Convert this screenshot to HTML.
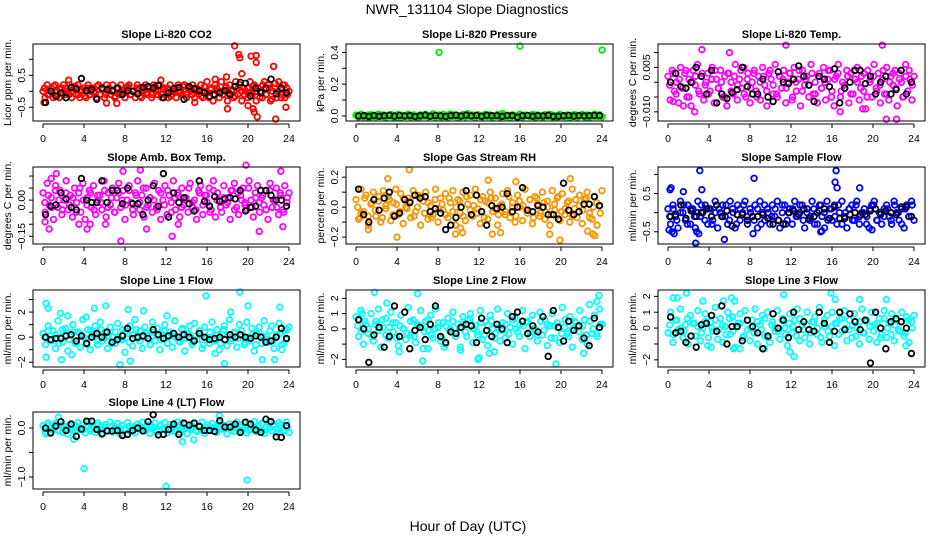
<!DOCTYPE html>
<html><head><meta charset="utf-8"><style>
html,body{margin:0;padding:0;background:#fff;}
svg{display:block;font-family:"Liberation Sans",sans-serif;}
</style></head><body>
<svg id="chart" width="936" height="540" viewBox="0 0 936 540" xmlns="http://www.w3.org/2000/svg">
<rect x="0" y="0" width="936" height="540" fill="#fff"/>
<text x="467" y="14" text-anchor="middle" font-size="14">NWR_131104  Slope Diagnostics</text>
<text x="468" y="531" text-anchor="middle" font-size="14">Hour of Day (UTC)</text>
</svg>
<script>
const blkHoursCount = 48;
const co2Band = [0,-2,2,-1,1,-2,2,0,-2,1,2,-1,0,2,-2,1,-1,2,-2,0,1,-2,2,-1,1,0,-2,2,-1,1,-2,2,0,-1,2,-2,1,-1,2,0,-2,1,2,-1,0,-2,2,1,-2,0,2,-1,1,-2,2,0,-1,2,-2,1,0,-2,2,-1,1,-2,2,0,-1,2,-2,1,0,2,-2,1,-1,2,-2,0,3,-2,1,-3,2,0,-2,3,-1,1,-3,2,0,-2,3,-1,2,-3,1,0,-2,3,-1,2,-3,1,0,-2,3,-1,2,-3,0,1,-2,3,-1,2,-2,1,0];
const co2Band2 = [1,-1,0,1.5,-1.5,0.5,-0.5,1,-1,0,1.5,-1,0.5,-1.5,1,0,-0.5,1.5,-1,0.5,-1,1,0,-1.5,1,-0.5,0.5,1.5,-1,0,1,-1.5,0.5,-0.5,1,-1,1.5,0,-1,0.5,1,-1.5,0,1,-0.5,1.5,-1,0.5,-1,1,0,-1.5,1.5,-0.5,0.5,-1,1,0,-1,1.5,-0.5,0.5,-1.5,1,0,-1,1,-0.5,1.5,0,-2,2,-1,1,-2.5,2.5,0,-2,2,-1];
const co2Blk = [-3.5,0,-1.5,-0.5,-2,1.2,0.8,4,0.2,0.5,-2.5,1,0.5,0.2,1,-1,0.2,0,-0.8,1.2,1.5,1,1.8,-2,-0.5,0.8,1.2,-2.5,1.5,0.8,0.2,-0.5,-1.5,-1,-0.5,0.2,-1,1.5,2.8,2.5,-1.5,1,-0.5,1,3.8,-0.8,1,-0.5];
const co2OutH = [0.1,6.2,7.2,18.0,18.7,19.1,19.2,19.4,20.0,20.3,20.5,20.6,20.8,20.8,20.9,22.5,22.7,23.7,2.5,11.5,14.8,16.8,17.9];
const co2OutV = [-3.5,-3.7,-3.8,-5.5,14.2,11.5,10.5,5.5,-4.5,11,-5.5,-6.5,11.2,9,-8,7.8,-8.7,-5,3.5,3.5,-3.5,3.8,4.5];

const presBand = [0.5,-0.8,1,-0.5,0.2,-1,0.8,0,-0.6,1.2,-0.3,0.6,-1,0.4,0.9,-0.7,0.1,1,-0.9,0.3,-0.4,1.1,-0.8,0.6,0,-1,0.7,-0.2,1,-0.6,0.4,1.3,-0.9,0.2,-0.5,1,0.5,-0.8,1.2,-0.3,0.7,-1.1,0.2,0.9,-0.6,1.4,-0.2,0.5,-1,0.8,0,-0.7,1.1,-0.4,0.6,-1,0.3,0.9,-0.8,1.5,-0.2,0.4,-1.1,0.7,0.1,-0.6,1.2,-0.9,0.5,0.2,-0.4,1,-0.8,0.6,0,-1,0.8,-0.3,1.1,-0.6,0.3,-0.9,1,0.2,-0.5,0.7,-1,0.4,0.9,-0.7,0.2,1,-0.5,0.6,-0.9,0.3,1.1,-0.4,0.7,-0.6];
const presBand2 = [0.3,-0.3,0,0.5,-0.5,0.2,-0.2,0.4,-0.4,0,0.3,-0.6,0.6,-0.1,0.1,-0.5,0.5,0,-0.3,0.3,-0.2,0.4,-0.4,0.6,-0.6,0,0.2,-0.2,0.5,-0.5,0.1,-0.1,0.3,-0.3,0.4,-0.4,0,0.6,-0.6,0.2,-0.2,0.5,-0.5,0,0.3,-0.3,0.1,-0.1,0.4,-0.4,0.6,-0.6,0,0.2,-0.2,0.5,-0.5,0.3,-0.3,0,0.4,-0.4,0.1,-0.1,0.6,-0.6,0.2,-0.2,0.3,0];
const presBlk = [0,0.2,-0.3,0.3,-0.2,0.1,0.4,-0.1,0.3,0,0.2,-0.4,0.1,0.5,-0.2,0.3,0,-0.3,0.2,0.4,-0.1,0.5,0,0.3,-0.2,0.4,0.1,0.2,-0.3,0.3,0.2,-0.8,0.1,0.3,-0.2,0.2,0,0.4,-0.3,-0.2,0.1,0.3,-0.1,0.2,0,0.1,0.3,0.2];
const presOutH = [8.1,16.0,24.0];
const presOutV = [40,44,41.5];

const tempBand = [2,-6,4,-3,0,-7,5,-2,3,-5,1,-8,4,-1,6,-4,2,-6,0,3,-3,5,-7,1,-2,4,-5,2,-8,3,0,-4,6,-6,1,-2,5,-5,3,-7,0,4,-3,2,-6,5,-1,-8,3,1,-4,6,-5,2,-2,4,-7,0,3,-6,5,-3,1,-8,4,-1,2,-5,6,-4,0,-7,3,-2,5,-6,1,4,-3,-8,2,6,-5,0,-2,4,-7,3,-4,1,5,-6,2,-3,-9,4,0,-5,6,-2,3,-7,1,-4,5,-6,2,-1,4,-8,3,0,-5,6,-3,1,-6,2];
const tempBand2 = [-1,3,-4,1,-2,4,-5,0,2,-3,3,-1,-4,1,4,-2,0,-5,3,-3,2,-1,4,-4,1,-2,3,-5,0,2,-3,4,-1,-4,2,1,-2,3,-5,0,4,-3,1,-1,3,-4,2,-2,0,4,-5,1,3,-3,-1,2,-4,4,0,-2,3,-5,1,2,-3,-1,4,-4,0,3,-2,1,-5,2,4,-1];
const tempBlk = [0,3,-1.5,-2,0,5,2,-4,4,-7,-4,-5.5,-3.5,-2.5,5,-1.5,-4,-4,1,-5,-6.5,3.5,0,-0.5,1,5.5,2,-1,-6.5,2,1,-1.5,4.5,-7,-2,0,4,4,-0.5,2,-4,0,2,-4,-2.5,4,-4,0];
const tempOutH = [11.5,20.9,21.3,22.3,16.8,2.6,19.0,0.5,1.5,6.0,3.3];
const tempOutV = [12.5,12.5,-12.5,-12.5,-10,-10,-9,-6.5,-8,10,11];

const ambBand = [3,-5,7,-2,1,-8,6,-3,4,-6,0,8,-4,2,-7,5,-1,3,-5,7,-8,1,4,-3,6,-6,0,2,-4,8,-7,3,-2,5,-5,1,7,-3,4,-8,0,6,-1,-6,3,8,-4,2,-7,5,-2,1,-5,7,-3,4,-8,0,6,-6,2,-1,8,-4,3,-7,5,-2,1,-5,7,-3,0,-8,4,6,-6,2,-1,5,-4,8,-7,3,0,-5,6,-2,1,-8,4,7,-3,-6,2,5,-1,-4,8,0,-7,3,6,-5,1,-2,4,-8,7,-3,0,5,-6,2,-4,6,-1,3];
const ambBand2 = [-1,2,-3,4,0,-4,3,-2,1,-5,5,0,-2,3,-4,2,-1,4,-3,1,-5,3,0,-2,4,-4,2,-1,5,-3,1,0,-4,3,-2,4,-5,1,2,-3,0,5,-1,-4,3,-2,2,-5,4,0,-3,1,-1,4,-4,3,0,-2,5,-3,1,-1,2,-4,4,0,-3,3,-5,1];
const ambBlk = [-6,-2.5,-2,3,0.5,-3,-4,9,0,-1,-1,8,-1,4,4,-1.5,5,-1.5,-1.5,-6,0,6,-2.5,11,-7,3,-1,1,-1.5,-4.5,8,-0.5,-2.5,1.5,-0.5,0.5,1,0.5,4,-4.5,-3,-2.5,4,4,2,0,0,-2.5];
const ambOutH = [0.2,0.6,0.8,1.3,4.3,4.6,6.1,7.6,7.8,10.1,12.6,13.2,19.8,21.1,23.2,23.4,3.5,9.5];
const ambOutV = [-9,-12,9,11,-12,-10,-10,-17,12,-12,-15,-10,14.5,-13,12,-11,-10,12.5];

const rhBand = [5,-8,12,-3,8,-12,2,10,-6,4,-10,11,-1,7,-9,3,12,-5,9,-11,0,6,-7,11,-3,8,-12,4,10,-8,1,-5,12,-10,6,-2,9,-7,3,11,-12,5,-4,10,-9,2,8,-6,12,-1,-11,7,4,-8,10,-3,6,-12,1,9,-5,11,-7,3,-10,8,0,-9,12,-4,5,-11,7,2,-6,10,-8,4,-12,11,-2,6,-9,9,-5,3,-10,12,-1,-7,8,-11,5,10,-4,-8,7,-12,1,11];
const rhBand2 = [0,-4,6,-6,3,-2,7,-7,1,5,-5,2,-3,6,-1,4,-6,0,7,-4,3,-7,5,-1,2,-5,6,-3,0,4,-6,7,-2,1,-4,5,-7,3,6,-1,-5,2,-3,7,0,-6,4,1,-2,5,-7,6,-4,3,0,-5,2,7,-3,-1,4,-6,5,1,-2,6,-7,0,3,-4];
const rhBlk = [12,-5,-10,5,-2,6,10,-6,-4,5,3,8,6,7,-3,-1,-4,-15,-12,-7,0,11,-5,8,-3,-12,1,-1,0,9,-3,0,13,-2,-3,1,0,-5,-5,-8,16,-2,-5,-3,2,2,7,1];
const rhOutH = [5.2,4.0,3.1,1.2,0.4,19.9,23.3,23.1,22.6,20.9,14.1,13.3,12.9,9.7,10.4,10.2,15.6,18.9];
const rhOutV = [25,-20,19,-15,-7,-22,-19,-18,-16,19,-17,-18,18,-18,-17,-14,17,-18];

const flowBand = [1,-3,2,-1,-4,3,0,-2,2,-3,1,-4,3,-1,0,2,-3,1,-2,3,-4,0,2,-1,-3,3,1,-4,2,-2,0,3,-3,1,-1,2,-4,3,0,-2,1,-3,2,-1,3,-4,0,2,-2,1,-3,3,-1,0,2,-4,1,-2,3,-3,0,2,-1,-4,3,1,-2,2,-3,0,3,-1,-4,1,2,-2,3,-3,0,1,-1,-4,2,3,-2,0,-3,1,2,-1,-3,3,0,-2,1,-4,2,-1,3,-2];
const flowBand2 = [-1,1,-2,0,2,-3,1,-1,0,2,-2,1,-3,0,1,-1,2,-2,0,-3,1,2,-1,0,-2,1,-3,2,0,-1,1,-2,2,-3,0,1,-1,2,-2,0,-1,1,-3,2,0,-2,1,-1,2,-3,0,1,-2,2,-1,0,-3,1,2,-2,0,-1,1,-2,2,0,-3,1,-1,2];
const flowBlk = [-1,-0.5,2,-1.5,0.5,-1,0,1,-1,2,-1,0.5,-3.5,-0.5,-0.5,-2,-1,-1,-0.5,-1.5,-3,-2,-3,0,0.5,-0.5,1,-1.5,-1,0.5,1,-1.5,1.5,-1.5,-1.5,-0.5,0,-0.5,-0.5,0.5,1,-0.5,0.5,0,-0.5,1.5,1.5,-1];
const flowOutH = [0.2,0.3,0.4,0.1,2.7,2.8,3.0,3.1,3.3,5.5,8.3,8.4,16.4,16.5,16.3,18.7,14.9,15.0,19.9,0.6,1.5];
const flowOutV = [6,6.5,-5,-4.5,-8,-5,-5.5,11,6,-7,-5.5,9,11,6.5,8,6.5,-5,-4.8,-4.5,-5.5,5.5];

const line1Band = [0.3,-0.6,0.9,-0.2,0.5,-0.9,1.3,0,-0.4,0.7,-1.1,0.2,1,-0.5,0.4,-0.8,1.4,-0.1,0.6,-1,0.2,0.9,-0.6,1.2,-0.3,0.4,-0.9,0.8,0,-0.5,1.1,-0.2,0.6,-1.2,0.3,0.9,-0.7,1.4,-0.1,0.5,-0.9,0.8,0.1,-0.6,1.2,-0.3,0.7,-1,0.2,1,-0.5,0.4,-0.8,1.3,0,-0.4,0.7,-1.1,0.3,0.9,-0.6,1.1,-0.2,0.5,-0.9,0.8,0,-0.5,1.2,-0.3,0.6,-1,0.2,0.9,-0.7,1.4,-0.1,0.4,-0.8,1,0.1,-0.6,1.2,-0.3,0.7,-1.1,0.3,0.8,-0.5,1.3,0,-0.4,0.9,-0.9,0.2,1.1,-0.6,0.5,-0.2,0.8];
const line1Band2 = [0,0.5,-0.3,0.2,-0.5,0.6,0.1,-0.2,0.4,-0.4,0.3,0,-0.6,0.5,0.2,-0.3,0.6,-0.1,0.1,-0.5,0.4,0,-0.2,0.5,-0.4,0.2,0.6,-0.3,0,0.3,-0.6,0.4,0.1,-0.2,0.5,-0.5,0.2,0,-0.3,0.6,-0.1,0.3,-0.4,0.1,0.5,-0.6,0,0.4,-0.2,0.2,-0.5,0.6,0.1,-0.3,0.3,-0.1,0.5,-0.4,0,0.2,-0.6,0.4,0.1,-0.2,0.5,-0.3,0,0.3,-0.5,0.6];
const line1Blk = [0,-0.2,-0.1,-0.1,0.1,0.2,-0.3,0.1,-0.5,0,0.3,0,0.4,-0.4,-0.2,0.1,0.7,-0.1,0,0.1,-0.1,0.6,0.2,-0.1,0.1,0.3,0,0.2,0,-0.3,0.3,0,-0.2,-0.1,0,-0.2,0.2,0,0.2,0,-0.1,0.1,0,-0.4,-0.3,0,0.7,-0.1];
const line1OutH = [0.3,0.3,0.5,1.8,2.4,2.8,4.2,5.0,6.1,7.5,8.3,8.5,12.1,15.9,16.8,17.7,18.3,19.2,20.0,21.4,22.6,23.1,23.3,9.8,1.7];
const line1OutV = [2.7,-1.6,2.3,-1.8,1.7,-1.4,1.6,2.3,2.5,-2.2,2.2,-1.9,1.7,3.3,-1.3,-2.1,2,3.6,2.5,-1.8,-1.8,2.4,-1,2.1,1.9];

const line2Band = [0.8,-0.5,1.2,-1,0.3,-0.3,1,-0.8,0.5,1.3,-1.2,0.1,0.7,-0.6,1.1,-0.2,0.4,-1.1,0.9,0,-0.7,1.4,-0.4,0.6,-0.9,0.2,1.2,-1.3,0.5,-0.1,0.9,-0.6,1.3,0.1,-0.8,0.4,-1,0.7,0,1.1,-0.5,0.3,-1.2,0.8,-0.2,0.6,1,-0.9,0.2,-0.4,1.2,-0.7,0.5,-1.1,0.9,0,-0.3,1.3,-0.8,0.4,-0.6,1,0.1,-1,0.7,-0.2,0.3,1.2,-1.3,0.5,-0.5,0.9,0,-0.8,1.1,-0.4,0.6,-1.1,0.2,1,-0.6,0.4,-0.9,1.4,0.1,-0.3,0.8,-1.2,0.5,0.2,1.2,-0.7,0.6,-1,1.6,-0.3,0.9,-0.5,1.3,0.3];
const line2Band2 = [0.2,-0.2,0.5,0,-0.5,0.3,-0.1,0.6,-0.4,0.1,0.4,-0.6,0.2,0,-0.3,0.5,-0.5,0.3,0.1,-0.2,0.6,-0.4,0,0.4,-0.6,0.2,-0.1,0.5,-0.3,0.1,0.3,-0.5,0.6,0,-0.2,0.4,-0.4,0.2,0.5,-0.6,0.1,-0.1,0.3,-0.3,0.6,0,-0.5,0.2,0.4,-0.2,0,-0.4,0.5,-0.1,0.3,-0.6,0.2,0.1,-0.3,0.6,-0.5,0,0.4,-0.2,0.2,-0.4,0.5,0,-0.3,0.3];
const line2Blk = [0.6,0,-2.2,-0.4,0.1,-1.2,-0.5,1.5,-0.5,1.1,-1.3,-0.1,0.1,-0.7,0.3,1.5,-0.5,-0.9,-0.2,-0.3,0.1,0.3,0.2,-0.9,0.7,-0.1,-0.5,0.3,0,-0.9,0.8,1.1,0.5,-0.3,0.2,-0.2,0.8,-1.8,1.2,0.1,-0.8,0.5,-0.1,0.2,-0.6,-1.1,0.7,0.1];
const line2OutH = [1.8,6.0,6.5,0.6,3.0,4.2,7.0,8.6,10.2,11.9,13.0,13.5,19.5,22.2,23.7,23.5,12.0];
const line2OutV = [2.4,2.3,-2.1,1,1.7,-1.5,-1.3,-1.2,-1.4,-2,-1.6,-1.5,-2.3,-1.6,2.2,1.8,-1.9];

const line3Band = [-0.3,1,-0.9,0.5,-0.1,1.2,-0.6,0.2,-1,0.8,0.3,-0.5,1.1,-0.8,0,0.9,-1.1,0.4,-0.2,1.3,-0.7,0.6,-0.9,0.1,1,-0.4,0.7,-1.2,0.3,0.9,-0.6,1.1,-0.1,-0.8,0.5,1.2,-1,0.2,0.8,-0.5,1,-0.9,0.4,-0.2,1.1,-0.7,0.6,0,-1.1,0.9,-0.3,0.5,1.2,-0.8,0.2,-0.6,1,-1,0.4,0.7,-0.4,1.3,-0.9,0.1,0.8,-0.5,1,-1.1,0.3,0.6,-0.2,1.1,-0.8,0.5,-0.6,0.9,0,-1,1.2,-0.3,0.4,-0.7,1,0.2,-0.9,0.6,-0.4,1.1,-0.6,0.3,0.9,-0.8,0.5,-0.2,1,-0.5,0.7,-0.9,0.4,0.8];
const line3Band2 = [0.2,-0.4,0.5,0,-0.2,0.6,-0.5,0.3,0.1,-0.3,0.4,-0.6,0,0.5,-0.1,0.2,-0.4,0.6,-0.2,0.1,0.3,-0.5,0.5,0,-0.3,0.4,-0.1,0.6,-0.6,0.2,0,-0.2,0.5,-0.4,0.3,0.1,-0.5,0.6,-0.1,0.2,-0.3,0.4,0,-0.6,0.5,-0.2,0.1,0.3,-0.4,0.6,0,-0.1,0.2,-0.5,0.4,-0.3,0.5,0.1,-0.2,0.3,-0.6,0.6,0,-0.4,0.2,-0.1,0.4,-0.3,0.5,0];
const line3Blk = [0.7,-0.3,-0.2,-0.9,-0.5,-1.2,0.2,0.3,0.8,-0.2,1.4,-1,0.1,0.1,-0.8,0.5,0.1,-0.3,-1.3,-0.5,0.9,0,0.5,-0.6,1,-0.1,0.4,-0.1,-0.2,1,0.3,-0.9,-0.2,1,-0.1,0.9,0.4,-0.1,0.5,-2.2,1,0,-1.3,0.4,0.6,0.4,0,-1.6];
const line3OutH = [0.5,0.9,1.8,3.4,5.4,6.2,6.5,7.0,11.3,15.9,16.3,18.7,21.3,11.9,12.3,4.2,6.4,23.2,9.4];
const line3OutV = [1.9,1.9,2.2,1.7,1.7,1.9,1.7,-1.3,2.1,2.2,1.8,1.8,1.8,-1.5,-1.8,-1.2,-1.3,-1.1,-1.3];

const line4Band = [0.5,-0.8,1,-1.1,0.2,0.9,-0.5,1.2,-0.9,0.3,-1.2,0.8,0,-0.6,1.1,-0.3,0.6,-1,1.2,-0.2,0.4,-0.9,1,0.1,-1.1,0.7,-0.4,1.2,-0.8,0.3,0.9,-1.2,0.5,-0.1,1.1,-0.7,0.2,-1,0.8,0,1.2,-0.5,0.6,-1.1,0.3,1,-0.8,0.4,-0.2,1.1,-1,0.7,0.1,-0.6,1.2,-0.9,0.3,0.8,-1.2,0.5,-0.3,1,-0.7,0.2,1.2,-1.1,0.6,-0.4,0.9,0,-0.9,1.1,-0.2,0.5,-1.2,0.8,0.3,-0.7,1.2,-0.5,0.1,1,-1,0.6,-0.3,1.3,-0.8,0.4,0.9,-1.1,0.2,1.4,-0.6,0.7,-1,1.1,0,-0.5,1.2,-0.9];
const line4Band2 = [0,0.5,-0.4,0.2,-0.6,0.6,-0.1,0.3,-0.5,0.4,0,-0.3,0.6,-0.6,0.1,0.5,-0.2,0.2,-0.5,0.4,-0.4,0,0.6,-0.3,0.3,-0.6,0.1,0.5,-0.1,-0.4,0.4,0,-0.5,0.6,-0.2,0.2,-0.6,0.3,0.5,-0.3,0,-0.1,0.4,-0.5,0.6,-0.4,0.1,0.3,-0.6,0.2,0.5,-0.2,0,-0.5,0.4,-0.3,0.6,0.1,-0.4,0.3,-0.1,0.5,-0.6,0.2,0,0.4,-0.2,0.6,-0.5,0.1];
const line4Blk = [0,-1,0.4,1.3,-0.5,0.8,-1.7,-0.2,1.4,1.4,-0.3,-1.2,-0.6,-0.6,-0.5,-1.5,-1.3,-0.5,0,-0.6,1.3,2.7,-1.4,-1.3,-0.3,0.8,-1.3,1,0.6,1,0.3,-0.5,-0.5,-0.7,1.5,0.2,0.2,0.8,-0.9,1.2,0.8,-0.4,-0.9,1.8,1.3,-1.8,-1.9,0.5];
const line4OutH = [4.0,12.0,19.9,1.5,3.0,13.6,14.7,17.2,0.3];
const line4OutV = [-8.3,-11.9,-10.6,2.2,-2.3,-2.8,-2.4,2.5,-1.2];

const xTicks = [0,4,8,12,16,20,24];

const panels = [
 {id:'co2',title:'Slope Li-820 CO2',ylab:'Licor ppm per min.',color:'#ff0000',col:0,row:0,ymin:-9.3,ymax:14.8,ticks:[-5,0,5,10],labels:['\u22120.5','','0.5',''],band:co2Band,band2:co2Band2,blk:co2Blk,oh:co2OutH,ov:co2OutV},
 {id:'pressure',title:'Slope Li-820 Pressure',ylab:'kPa per min.',color:'#00ee00',col:1,row:0,ymin:-3.2,ymax:45.3,ticks:[0,10,20,30,40],labels:['0.0','','0.2','','0.4'],band:presBand,band2:presBand2,blk:presBlk,oh:presOutH,ov:presOutV},
 {id:'temp',title:'Slope Li-820 Temp.',ylab:'degrees C per min.',color:'#ff00ff',col:2,row:0,ymin:-13.1,ymax:12.9,ticks:[-10,-5,0,5,10],labels:['\u22120.010','','','0.005',''],band:tempBand,band2:tempBand2,blk:tempBlk,oh:tempOutH,ov:tempOutV},
 {id:'amb-temp',title:'Slope Amb. Box Temp.',ylab:'degrees C per min.',color:'#ff00ff',col:0,row:1,ymin:-18.2,ymax:13.75,ticks:[-15,-10,-5,0,5,10],labels:['\u22120.15','','','0.00','',''],band:ambBand,band2:ambBand2,blk:ambBlk,oh:ambOutH,ov:ambOutV},
 {id:'rh',title:'Slope Gas Stream RH',ylab:'percent per min.',color:'#f79400',col:1,row:1,ymin:-24.6,ymax:26.8,ticks:[-20,-10,0,10,20],labels:['\u22120.2','','0.0','','0.2'],band:rhBand,band2:rhBand2,blk:rhBlk,oh:rhOutH,ov:rhOutV},
 {id:'sample-flow',title:'Slope Sample Flow',ylab:'ml/min per min.',color:'#0000ff',col:2,row:1,ymin:-8.2,ymax:11.95,ticks:[-5,0,5,10],labels:['\u22120.5','','0.5',''],band:flowBand,band2:flowBand2,blk:flowBlk,oh:flowOutH,ov:flowOutV},
 {id:'line1-flow',title:'Slope Line 1 Flow',ylab:'ml/min per min.',color:'#00ffff',col:0,row:2,ymin:-2.38,ymax:3.76,ticks:[-2,-1,0,1,2,3],labels:['\u22122','','0','','2',''],band:line1Band,band2:line1Band2,blk:line1Blk,oh:line1OutH,ov:line1OutV},
 {id:'line2-flow',title:'Slope Line 2 Flow',ylab:'ml/min per min.',color:'#00ffff',col:1,row:2,ymin:-2.5,ymax:2.55,ticks:[-2,-1,0,1,2],labels:['\u22122','','0','1','2'],band:line2Band,band2:line2Band2,blk:line2Blk,oh:line2OutH,ov:line2OutV},
 {id:'line3-flow',title:'Slope Line 3 Flow',ylab:'ml/min per min.',color:'#00ffff',col:2,row:2,ymin:-2.45,ymax:2.4,ticks:[-2,-1,0,1,2],labels:['\u22122','','0','1','2'],band:line3Band,band2:line3Band2,blk:line3Blk,oh:line3OutH,ov:line3OutV},
 {id:'line4-flow',title:'Slope Line 4 (LT) Flow',ylab:'ml/min per min.',color:'#00ffff',col:0,row:3,ymin:-12.45,ymax:3.27,ticks:[-10,-5,0],labels:['\u22121.0','','0.0'],band:line4Band,band2:line4Band2,blk:line4Blk,oh:line4OutH,ov:line4OutV}
];

const colL = [33,346,658];
const rowT = [44,167,290,412];
const boxW = 267, boxH = 77;
const NS = 'http://www.w3.org/2000/svg';
const svg = document.getElementById('chart');

function mk(tag, attrs, parent){
  const e = document.createElementNS(NS, tag);
  for (const k in attrs) e.setAttribute(k, attrs[k]);
  (parent||svg).appendChild(e);
  return e;
}

panels.forEach(p => {
  const L = colL[p.col], T = rowT[p.row], B = T + boxH;
  const xs = h => L + 10 + h * (246 / 24);
  const ys = v => B - (v - p.ymin) / (p.ymax - p.ymin) * boxH;
  const g = mk('g', {});
  
  

  const t = mk('text', {x: L + boxW/2, y: T - 6, 'text-anchor':'middle', 'font-size':'11', 'font-weight':'bold'}, g);
  t.textContent = p.title;
  
  

  const yl = mk('text', {x: 0, y: 0, transform:'translate(' + (L - 22) + ',' + (T + boxH/2) + ') rotate(-90)', 'text-anchor':'middle', 'font-size':'10.5'}, g);
  yl.textContent = p.ylab;
  
  

  const pts = mk('g', {fill:'none', 'stroke-width':'1.8'}, g);
  
  
  const n = p.band.length;
  p.band.forEach((v, i) => {
    const h = i * 24 / (n - 1);
    const c = mk('circle', {cx: xs(h), cy: ys(v), r: 2.8, stroke: p.color}, pts);
    
    
  });
  const n2 = p.band2.length;
  p.band2.forEach((v, i) => {
    const h = (i + 0.5) * 24 / n2;
    const c = mk('circle', {cx: xs(h), cy: ys(v), r: 2.8, stroke: p.color}, pts);
    
    
  });
  p.oh.forEach((h, i) => {
    const c = mk('circle', {cx: xs(h), cy: ys(p.ov[i]), r: 2.8, stroke: p.color}, pts);
    
    
  });
  p.blk.forEach((v, i) => {
    const h = 0.25 + i * 24 / blkHoursCount;
    const c = mk('circle', {cx: xs(h), cy: ys(v), r: 2.8, stroke: '#000'}, pts);
    
    
  });

  const box = mk('rect', {x: L, y: T, width: boxW, height: boxH, fill:'none', stroke:'#000', 'stroke-width':'1'}, g);
  
  

  const ya = mk('g', {}, g);
  
  
  const yt0 = ys(p.ticks[0]), yt1 = ys(p.ticks[p.ticks.length-1]);
  mk('line', {x1: L, x2: L, y1: yt0, y2: yt1, stroke:'#000'}, ya);
  p.ticks.forEach((tv, i) => {
    const y = ys(tv);
    mk('line', {x1: L - 4, x2: L, y1: y, y2: y, stroke:'#000'}, ya);
    if (p.labels[i]) {
      const tl = mk('text', {x:0, y:0, transform:'translate(' + (L - 8) + ',' + y + ') rotate(-90)', 'text-anchor':'middle', 'font-size':'10.5'}, ya);
      tl.textContent = p.labels[i];
      
      
    }
  });

  const xa = mk('g', {}, g);
  
  
  mk('line', {x1: xs(0), x2: xs(24), y1: B + 3, y2: B + 3, stroke:'#000'}, xa);
  xTicks.forEach(h => {
    mk('line', {x1: xs(h), x2: xs(h), y1: B + 3, y2: B + 7, stroke:'#000'}, xa);
    const tl = mk('text', {x: xs(h), y: B + 21, 'text-anchor':'middle', 'font-size':'10.5'}, xa);
    tl.textContent = String(h);
    
    
  });
});
</script>
</body></html>
